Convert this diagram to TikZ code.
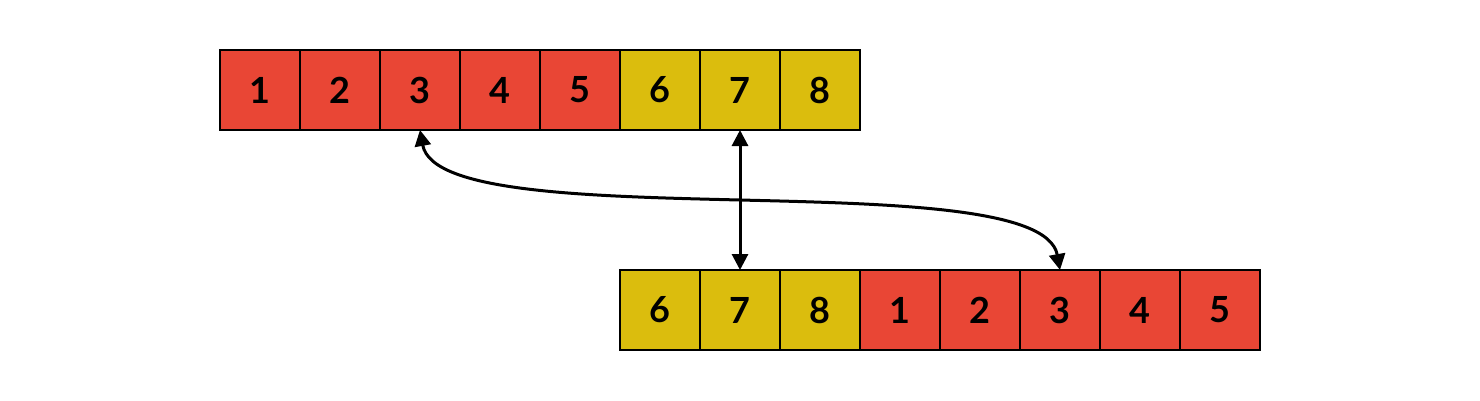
\documentclass[tikz,border=0pt]{standalone}
\usepackage{fontspec}
\setmainfont{Lato}
\usetikzlibrary{arrows.meta}
\definecolor{cred}{HTML}{E94635}
\definecolor{cyel}{HTML}{DBBD0D}
\begin{document}
\begin{tikzpicture}[x=1pt,y=-1pt,
  cell/.style={draw=black,line width=2.6pt,minimum width=80pt,minimum height=80pt,inner sep=0pt,outer sep=0pt,font=\fontsize{36}{40}\selectfont\bfseries},
  rc/.style={cell,fill=cred},
  yc/.style={cell,fill=cyel},
  conn/.style={line width=3pt,{Triangle[length=16pt,width=16pt]}-{Triangle[length=16pt,width=16pt]}}]
\useasboundingbox (0,0) rectangle (1480,400);
\foreach \i in {1,...,5} \node[rc] (t\i) at ({260+80*(\i-1)},90) {\i};
\foreach \i in {6,7,8} \node[yc] (t\i) at ({260+80*(\i-1)},90) {\i};
\foreach \i [count=\k from 0] in {6,7,8} \node[yc] (b\i) at ({660+80*\k},310) {\i};
\foreach \i [count=\k from 3] in {1,...,5} \node[rc] (b\i) at ({660+80*\k},310) {\i};
\draw[conn] (t7.south) -- (b7.north);
\draw[conn] (t3.south) .. controls (440,240) and (1040,160) .. (b3.north);
\end{tikzpicture}
\end{document}
